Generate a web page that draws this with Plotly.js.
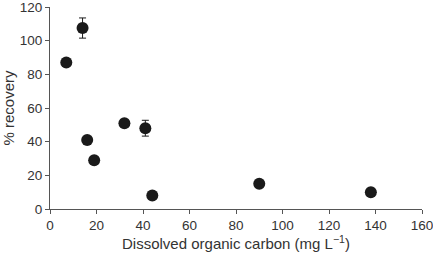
<!DOCTYPE html>
<html>
<head>
<meta charset="utf-8">
<script src="https://cdn.plot.ly/plotly-3.0.1.min.js"></script>
<style>html,body{margin:0;padding:0;background:#fff;}#chart{width:433px;height:255px;}</style>
</head>
<body>
<div id="chart"></div>
<script>
const docValues = [7, 14, 16, 19, 32, 41, 44, 90, 138];
const recoveryValues = [87, 107.5, 41, 29, 51, 48, 8, 15, 10];
const errorValues = [0, 6, 0, 0, 0, 4.7, 0, 0, 0];
const xTickVals = [0, 20, 40, 60, 80, 100, 120, 140, 160];
const yTickVals = [0, 20, 40, 60, 80, 100, 120];

const trace = {
  x: docValues,
  y: recoveryValues,
  mode: 'markers',
  type: 'scatter',
  marker: {color: '#1a1a1a', size: 12},
  error_y: {type: 'data', array: errorValues, visible: true, color: '#1a1a1a', thickness: 1, width: 3.5},
  cliponaxis: false,
  hoverinfo: 'none'
};

const FONT = 'Liberation Sans, Arial, sans-serif';
const axisCommon = {
  showgrid: false, zeroline: false, showline: true, linecolor: '#555', linewidth: 1,
  ticks: 'outside', ticklen: 4, tickcolor: '#555', tickwidth: 1,
  ticklabeloverflow: 'allow',
  tickfont: {family: FONT, size: 13.5, color: '#333'}
};

const layout = {
  width: 433, height: 255,
  margin: {l: 50, r: 11, t: 7, b: 46},
  paper_bgcolor: '#fff', plot_bgcolor: '#fff',
  showlegend: false,
  xaxis: Object.assign({}, axisCommon, {
    range: [0, 160], tickvals: xTickVals,
    title: {text: 'Dissolved organic carbon (mg L<sup>−1</sup>)', standoff: 4,
      font: {family: FONT, size: 15, color: '#333'}}
  }),
  yaxis: Object.assign({}, axisCommon, {
    range: [0, 120], tickvals: yTickVals,
    title: {text: '% recovery', standoff: 4,
      font: {family: FONT, size: 15, color: '#333'}}
  })
};

Plotly.newPlot('chart', [trace], layout, {staticPlot: true, displayModeBar: false});
</script>
</body>
</html>
